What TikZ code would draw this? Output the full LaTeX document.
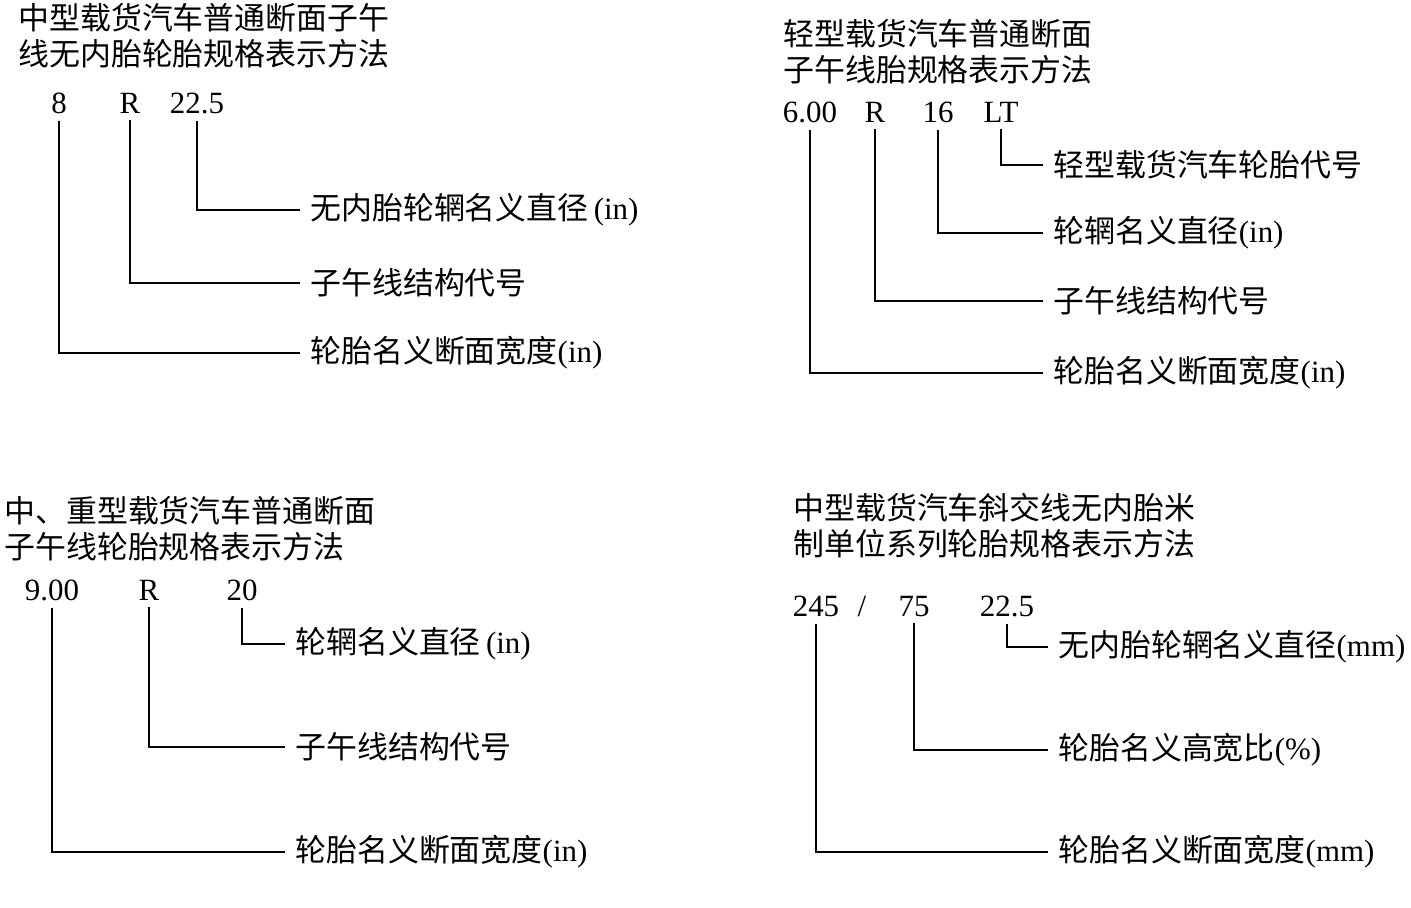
\documentclass[tikz,border=0pt]{standalone}
\usepackage{fontspec}
\setmainfont{Liberation Serif}
\newfontfamily\cjk{Noto Sans CJK SC}
\tikzset{
  heading/.style={anchor=west, align=left, inner sep=0pt, font=\cjk\fontsize{17.6}{20.4}\selectfont},
  codeno/.style={inner xsep=0pt, inner ysep=0.14cm, text depth=0pt, font=\fontsize{17.6}{20}\selectfont},
  lab/.style={anchor=west, inner ysep=0pt, inner xsep=0.2cm, font=\fontsize{17.6}{20}\selectfont},
  lead/.style={line width=0.6pt},
}
\begin{document}
\begin{tikzpicture}[x=0.02cm,y=-0.02cm]
    \useasboundingbox (0,0) rectangle (1411,907);

    % top left
    \node[heading] (h1) at (18,35.5) {中型载货汽车普通断面子午\\线无内胎轮胎规格表示方法};
    \node[codeno] (c1w) at (59,103) {8};
    \node[codeno] (c1r) at (130,103) {R};
    \node[codeno] (c1d) at (197,103) {22.5};
    \node[lab] (l1d) at (300,210) {{\cjk 无内胎轮辋名义直径}\,(in)};
    \node[lab] (l1r) at (300,283) {\cjk 子午线结构代号};
    \node[lab] (l1w) at (300,353) {{\cjk 轮胎名义断面宽度}(in)};
    \draw[lead] (c1d.south) |- (l1d.west);
    \draw[lead] (c1r.south) |- (l1r.west);
    \draw[lead] (c1w.south) |- (l1w.west);

    % top right
    \node[heading] (h2) at (783,51.5) {轻型载货汽车普通断面\\子午线胎规格表示方法};
    \node[codeno] (c2w) at (810,112) {6.00};
    \node[codeno] (c2r) at (875,112) {R};
    \node[codeno] (c2d) at (938,112) {16};
    \node[codeno] (c2t) at (1001,112) {LT};
    \node[lab] (l2t) at (1043,165) {\cjk 轻型载货汽车轮胎代号};
    \node[lab] (l2d) at (1043,233) {{\cjk 轮辋名义直径}(in)};
    \node[lab] (l2r) at (1043,301) {\cjk 子午线结构代号};
    \node[lab] (l2w) at (1043,373) {{\cjk 轮胎名义断面宽度}(in)};
    \draw[lead] (c2t.south) |- (l2t.west);
    \draw[lead] (c2d.south) |- (l2d.west);
    \draw[lead] (c2r.south) |- (l2r.west);
    \draw[lead] (c2w.south) |- (l2w.west);

    % bottom left
    \node[heading] (h3) at (4,529) {中、重型载货汽车普通断面\\子午线轮胎规格表示方法};
    \node[codeno] (c3w) at (52,590) {9.00};
    \node[codeno] (c3r) at (149,590) {R};
    \node[codeno] (c3d) at (242,590) {20};
    \node[lab] (l3d) at (285,644) {{\cjk 轮辋名义直径}\,(in)};
    \node[lab] (l3r) at (285,747) {\cjk 子午线结构代号};
    \node[lab] (l3w) at (285,852) {{\cjk 轮胎名义断面宽度}(in)};
    \draw[lead] (c3d.south) |- (l3d.west);
    \draw[lead] (c3r.south) |- (l3r.west);
    \draw[lead] (c3w.south) |- (l3w.west);

    % bottom right
    \node[heading] (h4) at (793,526) {中型载货汽车斜交线无内胎米\\制单位系列轮胎规格表示方法};
    \node[codeno] (c4w) at (816,606) {245};
    \node[codeno] (c4s) at (862,606) {/};
    \node[codeno] (c4a) at (914,606) {75};
    \node[codeno] (c4d) at (1007,606) {22.5};
    \node[lab] (l4d) at (1048,647) {{\cjk 无内胎轮辋名义直径}(mm)};
    \node[lab] (l4a) at (1048,750) {{\cjk 轮胎名义高宽比}(\%)};
    \node[lab] (l4w) at (1048,852) {{\cjk 轮胎名义断面宽度}(mm)};
    \draw[lead] (c4d.south) |- (l4d.west);
    \draw[lead] (c4a.south) |- (l4a.west);
    \draw[lead] (c4w.south) |- (l4w.west);
\end{tikzpicture}
\end{document}
